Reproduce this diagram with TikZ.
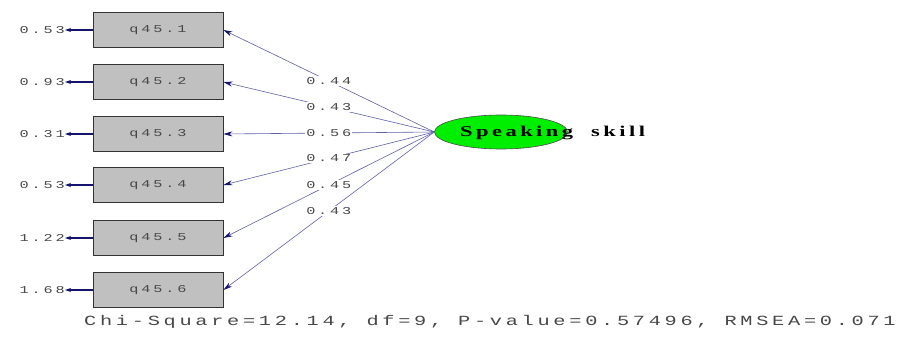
\documentclass[tikz,border=0pt]{standalone}
\usepackage{fontspec}
\newfontfamily\lismono[FakeStretch=1.45, LetterSpace=27]{Liberation Mono}
\newfontfamily\lismonowide[FakeStretch=1.45, LetterSpace=26.5]{Liberation Mono}
\newfontfamily\lisserif[FakeStretch=1.5, LetterSpace=23]{Liberation Serif}
\usetikzlibrary{arrows.meta,shapes.geometric}
\definecolor{boxgray}{HTML}{C0C0C0}
\definecolor{numgray}{HTML}{484848}
\definecolor{pathblue}{HTML}{6060A8}
\definecolor{tipblue}{HTML}{14146E}
\definecolor{latgreen}{HTML}{00EE00}
\tikzset{
  numfont/.style={font=\lismono\fontsize{10.5}{10.5}\selectfont, text=numgray},
  obsbox/.style={draw=black!80, fill=boxgray, minimum width=130pt, minimum height=35pt,
    inner sep=0pt, numfont, line width=0.8pt},
  errlbl/.style={anchor=east, inner sep=0pt, numfont},
  errarrow/.style={draw=tipblue, line width=1.6pt, -{Stealth[length=6pt,width=4pt]}},
  loadpath/.style={draw=pathblue, line width=0.6pt,
    -{Stealth[length=9pt,width=5pt,color=tipblue]}},
  loadlbl/.style={fill=white, inner sep=1pt, numfont},
  latent/.style={ellipse, draw=black!70, fill=latgreen, minimum width=133pt, minimum height=34pt,
    inner sep=0pt, line width=0.6pt},
}
\begin{document}
\begin{tikzpicture}[x=1pt, y=-1pt]
\useasboundingbox (0,0) rectangle (899,337);
\fill[white] (0,0) rectangle (899,337);

% latent variable
\node[latent] (lat) at (501,132) {};

% observed indicators, their error variances and loadings
\foreach \i/\y/\err/\load in {1/30/0.53/0.44, 2/82/0.93/0.43, 3/134/0.31/0.56,
                              4/185/0.53/0.47, 5/238/1.22/0.45, 6/290/1.68/0.43}{
  \node[obsbox] (q\i) at (158,\y) {q45.\i};
  \node[errlbl] (e\i) at (65,\y) {\err};
  \draw[errarrow] (q\i.west) -- (e\i.east);
  \draw[loadpath] (lat.west) -- node[loadlbl, pos=0.5] {\load} (q\i.east);
}

\node[anchor=west, inner sep=0pt, font=\lisserif\bfseries\fontsize{15}{15}\selectfont] (latname)
  at (460,133) {Speaking\hspace{9pt} skill};

\node[anchor=west, inner sep=0pt, font=\lismonowide\fontsize{14}{14}\selectfont, text=numgray] (fit)
  at (84,322) {Chi-Square=12.14, df=9, P-value=0.57496, RMSEA=0.071};
\end{tikzpicture}
\end{document}
